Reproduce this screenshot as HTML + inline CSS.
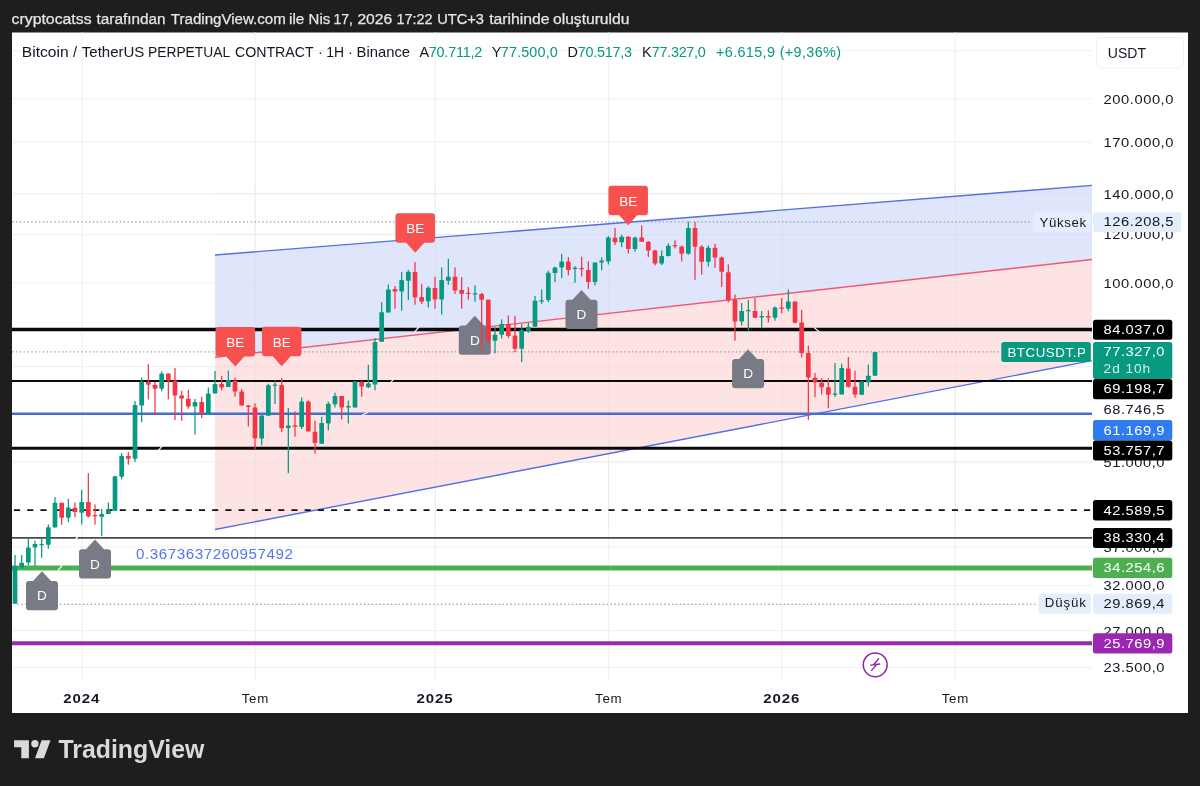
<!DOCTYPE html>
<html lang="tr"><head><meta charset="utf-8"><title>BTCUSDT.P</title>
<style>
html,body{margin:0;padding:0;background:#1e1e1e;}
body{width:1200px;height:786px;overflow:hidden;position:relative;font-family:'Liberation Sans', Arial, sans-serif;}
svg{position:absolute;left:0;top:0;display:block}
svg text{font-family:'Liberation Sans', Arial, sans-serif;}
</style></head><body>
<svg width="1200" height="786" viewBox="0 0 1200 786">
<rect x="0" y="0" width="1200" height="786" fill="#1e1e1e"/>
<rect x="12" y="32.5" width="1176" height="680.5" fill="#ffffff"/>

<defs><clipPath id="plot"><rect x="12" y="32.5" width="1080" height="652.5"/></clipPath></defs>
<g stroke="#f1f2f4" stroke-width="1.2">
<line x1="12" y1="50.6" x2="1092" y2="50.6"/>
<line x1="12" y1="99.0" x2="1092" y2="99.0"/>
<line x1="12" y1="142.1" x2="1092" y2="142.1"/>
<line x1="12" y1="193.7" x2="1092" y2="193.7"/>
<line x1="12" y1="234.6" x2="1092" y2="234.6"/>
<line x1="12" y1="283.0" x2="1092" y2="283.0"/>
<line x1="12" y1="366.6" x2="1092" y2="366.6"/>
<line x1="12" y1="461.8" x2="1092" y2="461.8"/>
<line x1="12" y1="547.0" x2="1092" y2="547.0"/>
<line x1="12" y1="585.5" x2="1092" y2="585.5"/>
<line x1="12" y1="630.7" x2="1092" y2="630.7"/>
<line x1="12" y1="667.5" x2="1092" y2="667.5"/>
<line x1="82.0" y1="32.5" x2="82.0" y2="680"/>
<line x1="255.3" y1="32.5" x2="255.3" y2="680"/>
<line x1="435.3" y1="32.5" x2="435.3" y2="680"/>
<line x1="608.6" y1="32.5" x2="608.6" y2="680"/>
<line x1="782.0" y1="32.5" x2="782.0" y2="680"/>
<line x1="955.3" y1="32.5" x2="955.3" y2="680"/>
</g>
<g clip-path="url(#plot)">
<polygon points="215,255.0 1092,185.4 1092,259.5 215,357.3" fill="#dfe5fb"/>
<polygon points="215,357.3 1092,259.5 1092,360.6 215,529.5" fill="#fde3e4"/>
<g stroke="#000" stroke-opacity="0.022" stroke-width="1.2">
<line x1="215" y1="193.7" x2="1092" y2="193.7"/>
<line x1="215" y1="234.6" x2="1092" y2="234.6"/>
<line x1="215" y1="283.0" x2="1092" y2="283.0"/>
<line x1="215" y1="366.6" x2="1092" y2="366.6"/>
<line x1="215" y1="461.8" x2="1092" y2="461.8"/>
<line x1="255.3" y1="180" x2="255.3" y2="530"/>
<line x1="435.3" y1="180" x2="435.3" y2="530"/>
<line x1="608.6" y1="180" x2="608.6" y2="530"/>
<line x1="782.0" y1="180" x2="782.0" y2="530"/>
<line x1="955.3" y1="180" x2="955.3" y2="530"/>
</g>
<line x1="12" y1="221.9" x2="1030" y2="221.9" stroke="#9a9da6" stroke-width="1.3" stroke-dasharray="1.4 2.45"/>
<line x1="12" y1="351.8" x2="1000" y2="351.8" stroke="#8fa8a3" stroke-width="1.3" stroke-dasharray="1.4 2.45"/>
<line x1="17.5" y1="604.3" x2="1036" y2="604.3" stroke="#9a9da6" stroke-width="1.3" stroke-dasharray="1.4 2.45"/>
<line x1="215" y1="255.0" x2="1092" y2="185.4" stroke="#5270e2" stroke-width="1.4"/>
<line x1="215" y1="357.3" x2="1092" y2="259.5" stroke="#ef5a6f" stroke-width="1.4"/>
<line x1="215" y1="529.5" x2="1092" y2="360.6" stroke="#5270e2" stroke-width="1.4"/>
<line x1="12" y1="329.5" x2="1092" y2="329.5" stroke="#0a0a0a" stroke-width="3.6"/>
<line x1="12" y1="381.0" x2="1092" y2="381.0" stroke="#0a0a0a" stroke-width="2.2"/>
<line x1="12" y1="413.8" x2="1092" y2="413.8" stroke="#456dd2" stroke-width="2.4"/>
<line x1="12" y1="448.2" x2="1092" y2="448.2" stroke="#0a0a0a" stroke-width="3.0"/>
<line x1="14" y1="510.2" x2="1092" y2="510.2" stroke="#111" stroke-width="1.8" stroke-dasharray="6.1 7.11"/>
<line x1="12" y1="537.9" x2="1092" y2="537.9" stroke="#4a4a4a" stroke-width="1.7"/>
<line x1="12" y1="568.0" x2="1092" y2="568.0" stroke="#4caf50" stroke-width="5.0"/>
<line x1="12" y1="643.2" x2="1092" y2="643.2" stroke="#9c27b0" stroke-width="4.0"/>
<line x1="414.5" y1="332.20000000000005" x2="418.9" y2="327.0" stroke="#fff" stroke-width="1.2"/>
<line x1="389.8" y1="383.6" x2="394.2" y2="378.4" stroke="#fff" stroke-width="1.2"/>
<line x1="158.10000000000002" y1="450.8" x2="162.5" y2="445.59999999999997" stroke="#fff" stroke-width="1.2"/>
<line x1="74.6" y1="540.5" x2="79.0" y2="535.3" stroke="#fff" stroke-width="1.2"/>
<line x1="57.8" y1="570.6" x2="62.2" y2="565.4" stroke="#fff" stroke-width="1.2"/>
<line x1="813.9" y1="327.40000000000003" x2="819.1" y2="331.8" stroke="#fff" stroke-width="1.2"/>
<line x1="362" y1="415.3" x2="368" y2="412.3" stroke="#fff" stroke-width="1.2"/>
<path d="M29.0,581.0999999999999 H33 L42,571.3 L51,581.0999999999999 H55.0 Q58.0,581.0999999999999 58.0,584.0999999999999 V607.3 Q58.0,610.3 55.0,610.3 H29.0 Q26.0,610.3 26.0,607.3 V584.0999999999999 Q26.0,581.0999999999999 29.0,581.0999999999999 Z" fill="#787b86"/>
<text x="42" y="600.4" font-size="13.6" fill="#fff" text-anchor="middle">D</text>
<path d="M82.0,549.1999999999999 H86 L95,539.4 L104,549.1999999999999 H108.0 Q111.0,549.1999999999999 111.0,552.1999999999999 V575.4 Q111.0,578.4 108.0,578.4 H82.0 Q79.0,578.4 79.0,575.4 V552.1999999999999 Q79.0,549.1999999999999 82.0,549.1999999999999 Z" fill="#787b86"/>
<text x="95" y="568.5" font-size="13.6" fill="#fff" text-anchor="middle">D</text>
<path d="M461.8,325.6 H465.8 L474.8,315.8 L483.8,325.6 H487.8 Q490.8,325.6 490.8,328.6 V351.8 Q490.8,354.8 487.8,354.8 H461.8 Q458.8,354.8 458.8,351.8 V328.6 Q458.8,325.6 461.8,325.6 Z" fill="#787b86"/>
<text x="474.8" y="344.9" font-size="13.6" fill="#fff" text-anchor="middle">D</text>
<path d="M568.5,299.8 H572.5 L581.5,290 L590.5,299.8 H594.5 Q597.5,299.8 597.5,302.8 V326.0 Q597.5,329.0 594.5,329.0 H568.5 Q565.5,329.0 565.5,326.0 V302.8 Q565.5,299.8 568.5,299.8 Z" fill="#787b86"/>
<text x="581.5" y="319.1" font-size="13.6" fill="#fff" text-anchor="middle">D</text>
<path d="M735.1,359.0 H739.1 L748.1,349.2 L757.1,359.0 H761.1 Q764.1,359.0 764.1,362.0 V385.2 Q764.1,388.2 761.1,388.2 H735.1 Q732.1,388.2 732.1,385.2 V362.0 Q732.1,359.0 735.1,359.0 Z" fill="#787b86"/>
<text x="748.1" y="378.3" font-size="13.6" fill="#fff" text-anchor="middle">D</text>
<g>
<rect x="14.38" y="555.0" width="1.25" height="48.8" fill="#089981"/><rect x="12.65" y="566.1" width="4.7" height="37.7" fill="#089981" rx="0.6"/>
<rect x="21.05" y="555.0" width="1.25" height="13.7" fill="#089981"/><rect x="19.32" y="562.7" width="4.7" height="5.1" fill="#089981" rx="0.6"/>
<rect x="27.71" y="538.0" width="1.25" height="27.4" fill="#089981"/><rect x="25.98" y="547.4" width="4.7" height="15.1" fill="#089981" rx="0.6"/>
<rect x="34.38" y="540.7" width="1.25" height="25.4" fill="#089981"/><rect x="32.65" y="544.0" width="4.7" height="3.4" fill="#089981" rx="0.6"/>
<rect x="41.05" y="538.0" width="1.25" height="19.7" fill="#089981"/><rect x="39.32" y="544.0" width="4.7" height="1.2" fill="#089981" rx="0.6"/>
<rect x="47.71" y="524.5" width="1.25" height="24.2" fill="#089981"/><rect x="45.98" y="527.3" width="4.7" height="17.4" fill="#089981" rx="0.6"/>
<rect x="54.38" y="497.1" width="1.25" height="30.3" fill="#089981"/><rect x="52.65" y="502.8" width="4.7" height="24.6" fill="#089981" rx="0.6"/>
<rect x="61.05" y="502.8" width="1.25" height="22.0" fill="#f23645"/><rect x="59.32" y="502.8" width="4.7" height="14.9" fill="#f23645" rx="0.6"/>
<rect x="67.71" y="498.7" width="1.25" height="23.4" fill="#089981"/><rect x="65.98" y="507.4" width="4.7" height="10.3" fill="#089981" rx="0.6"/>
<rect x="74.38" y="502.5" width="1.25" height="14.9" fill="#f23645"/><rect x="72.65" y="507.8" width="4.7" height="4.3" fill="#f23645" rx="0.6"/>
<rect x="81.05" y="489.7" width="1.25" height="34.7" fill="#089981"/><rect x="79.32" y="502.1" width="4.7" height="10.7" fill="#089981" rx="0.6"/>
<rect x="87.71" y="473.1" width="1.25" height="44.3" fill="#f23645"/><rect x="85.98" y="502.1" width="4.7" height="14.3" fill="#f23645" rx="0.6"/>
<rect x="94.38" y="504.4" width="1.25" height="20.2" fill="#f23645"/><rect x="92.65" y="515.0" width="4.7" height="1.3" fill="#f23645" rx="0.6"/>
<rect x="101.05" y="508.8" width="1.25" height="27.3" fill="#089981"/><rect x="99.32" y="514.1" width="4.7" height="2.7" fill="#089981" rx="0.6"/>
<rect x="107.71" y="502.5" width="1.25" height="11.6" fill="#089981"/><rect x="105.98" y="510.1" width="4.7" height="4.0" fill="#089981" rx="0.6"/>
<rect x="114.38" y="475.8" width="1.25" height="35.0" fill="#089981"/><rect x="112.65" y="476.3" width="4.7" height="34.5" fill="#089981" rx="0.6"/>
<rect x="121.05" y="453.1" width="1.25" height="26.3" fill="#089981"/><rect x="119.32" y="456.0" width="4.7" height="20.7" fill="#089981" rx="0.6"/>
<rect x="127.71" y="452.0" width="1.25" height="12.7" fill="#f23645"/><rect x="125.98" y="456.0" width="4.7" height="2.7" fill="#f23645" rx="0.6"/>
<rect x="134.38" y="401.0" width="1.25" height="61.0" fill="#089981"/><rect x="132.65" y="405.0" width="4.7" height="53.7" fill="#089981" rx="0.6"/>
<rect x="141.05" y="377.4" width="1.25" height="44.8" fill="#089981"/><rect x="139.32" y="381.4" width="4.7" height="24.0" fill="#089981" rx="0.6"/>
<rect x="147.71" y="364.0" width="1.25" height="35.4" fill="#f23645"/><rect x="145.98" y="382.0" width="4.7" height="2.7" fill="#f23645" rx="0.6"/>
<rect x="154.38" y="382.0" width="1.25" height="32.8" fill="#f23645"/><rect x="152.65" y="384.7" width="4.7" height="4.0" fill="#f23645" rx="0.6"/>
<rect x="161.05" y="371.4" width="1.25" height="20.0" fill="#089981"/><rect x="159.32" y="373.4" width="4.7" height="15.3" fill="#089981" rx="0.6"/>
<rect x="167.71" y="373.4" width="1.25" height="26.0" fill="#f23645"/><rect x="165.98" y="373.4" width="4.7" height="7.3" fill="#f23645" rx="0.6"/>
<rect x="174.38" y="368.0" width="1.25" height="52.1" fill="#f23645"/><rect x="172.65" y="380.7" width="4.7" height="14.7" fill="#f23645" rx="0.6"/>
<rect x="181.05" y="390.7" width="1.25" height="30.1" fill="#f23645"/><rect x="179.32" y="395.4" width="4.7" height="3.1" fill="#f23645" rx="0.6"/>
<rect x="187.71" y="389.7" width="1.25" height="19.1" fill="#f23645"/><rect x="185.98" y="398.7" width="4.7" height="7.8" fill="#f23645" rx="0.6"/>
<rect x="194.38" y="399.0" width="1.25" height="35.5" fill="#089981"/><rect x="192.65" y="402.1" width="4.7" height="4.4" fill="#089981" rx="0.6"/>
<rect x="201.05" y="396.7" width="1.25" height="21.4" fill="#f23645"/><rect x="199.32" y="402.1" width="4.7" height="11.1" fill="#f23645" rx="0.6"/>
<rect x="207.71" y="387.4" width="1.25" height="26.7" fill="#089981"/><rect x="205.98" y="393.4" width="4.7" height="20.7" fill="#089981" rx="0.6"/>
<rect x="214.38" y="371.0" width="1.25" height="22.4" fill="#089981"/><rect x="212.65" y="384.1" width="4.7" height="9.3" fill="#089981" rx="0.6"/>
<rect x="221.05" y="375.8" width="1.25" height="14.7" fill="#f23645"/><rect x="219.32" y="384.1" width="4.7" height="3.3" fill="#f23645" rx="0.6"/>
<rect x="227.71" y="370.7" width="1.25" height="16.3" fill="#089981"/><rect x="225.98" y="380.1" width="4.7" height="6.9" fill="#089981" rx="0.6"/>
<rect x="234.38" y="377.7" width="1.25" height="19.0" fill="#f23645"/><rect x="232.65" y="380.7" width="4.7" height="10.7" fill="#f23645" rx="0.6"/>
<rect x="241.05" y="389.1" width="1.25" height="16.3" fill="#f23645"/><rect x="239.32" y="391.4" width="4.7" height="14.0" fill="#f23645" rx="0.6"/>
<rect x="247.71" y="405.2" width="1.25" height="21.3" fill="#f23645"/><rect x="245.98" y="405.5" width="4.7" height="1.5" fill="#f23645" rx="0.6"/>
<rect x="254.38" y="403.4" width="1.25" height="46.3" fill="#f23645"/><rect x="252.65" y="407.5" width="4.7" height="30.8" fill="#f23645" rx="0.6"/>
<rect x="261.05" y="415.4" width="1.25" height="30.0" fill="#089981"/><rect x="259.32" y="415.4" width="4.7" height="23.1" fill="#089981" rx="0.6"/>
<rect x="267.71" y="383.8" width="1.25" height="32.0" fill="#089981"/><rect x="265.98" y="385.2" width="4.7" height="30.6" fill="#089981" rx="0.6"/>
<rect x="274.38" y="380.4" width="1.25" height="23.6" fill="#089981"/><rect x="272.65" y="384.5" width="4.7" height="1.2" fill="#089981" rx="0.6"/>
<rect x="281.05" y="378.1" width="1.25" height="54.0" fill="#f23645"/><rect x="279.32" y="385.0" width="4.7" height="43.3" fill="#f23645" rx="0.6"/>
<rect x="287.71" y="408.0" width="1.25" height="65.2" fill="#089981"/><rect x="285.98" y="425.4" width="4.7" height="2.7" fill="#089981" rx="0.6"/>
<rect x="294.38" y="411.4" width="1.25" height="25.3" fill="#f23645"/><rect x="292.65" y="425.3" width="4.7" height="1.5" fill="#f23645" rx="0.6"/>
<rect x="301.05" y="397.4" width="1.25" height="31.7" fill="#089981"/><rect x="299.32" y="401.4" width="4.7" height="25.6" fill="#089981" rx="0.6"/>
<rect x="307.71" y="400.3" width="1.25" height="31.1" fill="#f23645"/><rect x="305.98" y="401.4" width="4.7" height="30.0" fill="#f23645" rx="0.6"/>
<rect x="314.38" y="420.7" width="1.25" height="33.0" fill="#f23645"/><rect x="312.65" y="431.8" width="4.7" height="11.2" fill="#f23645" rx="0.6"/>
<rect x="321.05" y="416.7" width="1.25" height="27.1" fill="#089981"/><rect x="319.32" y="423.0" width="4.7" height="20.8" fill="#089981" rx="0.6"/>
<rect x="327.71" y="401.6" width="1.25" height="28.9" fill="#089981"/><rect x="325.98" y="403.8" width="4.7" height="19.6" fill="#089981" rx="0.6"/>
<rect x="334.38" y="392.7" width="1.25" height="14.7" fill="#089981"/><rect x="332.65" y="396.0" width="4.7" height="8.3" fill="#089981" rx="0.6"/>
<rect x="341.05" y="396.0" width="1.25" height="23.4" fill="#f23645"/><rect x="339.32" y="396.0" width="4.7" height="11.4" fill="#f23645" rx="0.6"/>
<rect x="347.71" y="400.7" width="1.25" height="22.7" fill="#089981"/><rect x="345.98" y="406.0" width="4.7" height="1.4" fill="#089981" rx="0.6"/>
<rect x="354.38" y="380.8" width="1.25" height="26.6" fill="#089981"/><rect x="352.65" y="381.5" width="4.7" height="25.9" fill="#089981" rx="0.6"/>
<rect x="361.05" y="381.0" width="1.25" height="15.7" fill="#f23645"/><rect x="359.32" y="382.0" width="4.7" height="4.5" fill="#f23645" rx="0.6"/>
<rect x="367.72" y="364.8" width="1.25" height="23.2" fill="#089981"/><rect x="365.99" y="383.6" width="4.7" height="3.7" fill="#089981" rx="0.6"/>
<rect x="374.38" y="338.0" width="1.25" height="52.2" fill="#089981"/><rect x="372.65" y="342.0" width="4.7" height="42.5" fill="#089981" rx="0.6"/>
<rect x="381.05" y="302.2" width="1.25" height="39.6" fill="#089981"/><rect x="379.32" y="312.2" width="4.7" height="29.6" fill="#089981" rx="0.6"/>
<rect x="387.72" y="284.5" width="1.25" height="28.0" fill="#089981"/><rect x="385.99" y="289.4" width="4.7" height="23.1" fill="#089981" rx="0.6"/>
<rect x="394.38" y="286.0" width="1.25" height="22.7" fill="#f23645"/><rect x="392.65" y="289.0" width="4.7" height="2.6" fill="#f23645" rx="0.6"/>
<rect x="401.05" y="272.1" width="1.25" height="38.6" fill="#089981"/><rect x="399.32" y="280.1" width="4.7" height="11.3" fill="#089981" rx="0.6"/>
<rect x="407.72" y="270.1" width="1.25" height="29.9" fill="#089981"/><rect x="405.99" y="271.8" width="4.7" height="9.0" fill="#089981" rx="0.6"/>
<rect x="414.38" y="262.1" width="1.25" height="42.6" fill="#f23645"/><rect x="412.65" y="272.1" width="4.7" height="25.3" fill="#f23645" rx="0.6"/>
<rect x="421.05" y="283.9" width="1.25" height="20.1" fill="#f23645"/><rect x="419.32" y="297.1" width="4.7" height="4.4" fill="#f23645" rx="0.6"/>
<rect x="427.72" y="286.2" width="1.25" height="21.2" fill="#089981"/><rect x="425.99" y="287.7" width="4.7" height="13.6" fill="#089981" rx="0.6"/>
<rect x="434.38" y="276.8" width="1.25" height="31.9" fill="#f23645"/><rect x="432.65" y="288.0" width="4.7" height="11.4" fill="#f23645" rx="0.6"/>
<rect x="441.05" y="267.4" width="1.25" height="47.0" fill="#089981"/><rect x="439.32" y="280.1" width="4.7" height="19.3" fill="#089981" rx="0.6"/>
<rect x="447.72" y="258.7" width="1.25" height="26.1" fill="#089981"/><rect x="445.99" y="276.8" width="4.7" height="4.0" fill="#089981" rx="0.6"/>
<rect x="454.38" y="267.4" width="1.25" height="26.6" fill="#f23645"/><rect x="452.65" y="276.8" width="4.7" height="13.8" fill="#f23645" rx="0.6"/>
<rect x="461.05" y="277.2" width="1.25" height="31.5" fill="#f23645"/><rect x="459.32" y="290.0" width="4.7" height="3.8" fill="#f23645" rx="0.6"/>
<rect x="467.72" y="287.0" width="1.25" height="12.7" fill="#f23645"/><rect x="465.99" y="292.8" width="4.7" height="1.3" fill="#f23645" rx="0.6"/>
<rect x="474.38" y="285.3" width="1.25" height="16.3" fill="#089981"/><rect x="472.65" y="293.2" width="4.7" height="1.3" fill="#089981" rx="0.6"/>
<rect x="481.05" y="292.7" width="1.25" height="58.1" fill="#f23645"/><rect x="479.32" y="294.0" width="4.7" height="5.8" fill="#f23645" rx="0.6"/>
<rect x="487.72" y="299.5" width="1.25" height="43.5" fill="#f23645"/><rect x="485.99" y="299.8" width="4.7" height="40.9" fill="#f23645" rx="0.6"/>
<rect x="494.38" y="327.4" width="1.25" height="26.0" fill="#089981"/><rect x="492.65" y="334.7" width="4.7" height="6.0" fill="#089981" rx="0.6"/>
<rect x="501.05" y="319.4" width="1.25" height="19.3" fill="#089981"/><rect x="499.32" y="324.1" width="4.7" height="10.6" fill="#089981" rx="0.6"/>
<rect x="507.72" y="315.4" width="1.25" height="22.7" fill="#f23645"/><rect x="505.99" y="324.1" width="4.7" height="12.0" fill="#f23645" rx="0.6"/>
<rect x="514.38" y="315.8" width="1.25" height="36.3" fill="#f23645"/><rect x="512.65" y="335.4" width="4.7" height="13.4" fill="#f23645" rx="0.6"/>
<rect x="521.05" y="324.1" width="1.25" height="38.0" fill="#089981"/><rect x="519.32" y="330.1" width="4.7" height="18.7" fill="#089981" rx="0.6"/>
<rect x="527.72" y="322.7" width="1.25" height="10.0" fill="#089981"/><rect x="525.99" y="326.7" width="4.7" height="4.7" fill="#089981" rx="0.6"/>
<rect x="534.38" y="296.0" width="1.25" height="31.0" fill="#089981"/><rect x="532.65" y="300.7" width="4.7" height="26.0" fill="#089981" rx="0.6"/>
<rect x="541.05" y="289.5" width="1.25" height="14.3" fill="#089981"/><rect x="539.32" y="300.3" width="4.7" height="1.2" fill="#089981" rx="0.6"/>
<rect x="547.72" y="270.7" width="1.25" height="31.4" fill="#089981"/><rect x="545.99" y="272.8" width="4.7" height="27.3" fill="#089981" rx="0.6"/>
<rect x="554.38" y="266.7" width="1.25" height="15.4" fill="#089981"/><rect x="552.65" y="267.4" width="4.7" height="5.6" fill="#089981" rx="0.6"/>
<rect x="561.05" y="253.8" width="1.25" height="24.3" fill="#089981"/><rect x="559.32" y="261.4" width="4.7" height="6.0" fill="#089981" rx="0.6"/>
<rect x="567.72" y="257.0" width="1.25" height="18.4" fill="#f23645"/><rect x="565.99" y="261.4" width="4.7" height="8.7" fill="#f23645" rx="0.6"/>
<rect x="574.38" y="266.1" width="1.25" height="16.7" fill="#089981"/><rect x="572.65" y="267.7" width="4.7" height="1.3" fill="#089981" rx="0.6"/>
<rect x="581.05" y="256.7" width="1.25" height="19.8" fill="#f23645"/><rect x="579.32" y="268.0" width="4.7" height="1.3" fill="#f23645" rx="0.6"/>
<rect x="587.72" y="261.4" width="1.25" height="27.4" fill="#f23645"/><rect x="585.99" y="270.1" width="4.7" height="12.0" fill="#f23645" rx="0.6"/>
<rect x="594.38" y="262.5" width="1.25" height="22.9" fill="#089981"/><rect x="592.65" y="262.5" width="4.7" height="19.6" fill="#089981" rx="0.6"/>
<rect x="601.05" y="257.4" width="1.25" height="12.9" fill="#089981"/><rect x="599.32" y="260.5" width="4.7" height="1.9" fill="#089981" rx="0.6"/>
<rect x="607.72" y="236.0" width="1.25" height="28.5" fill="#089981"/><rect x="605.99" y="237.4" width="4.7" height="24.0" fill="#089981" rx="0.6"/>
<rect x="614.38" y="228.0" width="1.25" height="17.0" fill="#f23645"/><rect x="612.65" y="237.8" width="4.7" height="4.5" fill="#f23645" rx="0.6"/>
<rect x="621.05" y="234.7" width="1.25" height="12.4" fill="#089981"/><rect x="619.32" y="236.7" width="4.7" height="5.6" fill="#089981" rx="0.6"/>
<rect x="627.72" y="236.0" width="1.25" height="17.4" fill="#f23645"/><rect x="625.99" y="236.7" width="4.7" height="12.3" fill="#f23645" rx="0.6"/>
<rect x="634.38" y="236.7" width="1.25" height="15.0" fill="#089981"/><rect x="632.65" y="237.4" width="4.7" height="11.6" fill="#089981" rx="0.6"/>
<rect x="641.05" y="225.4" width="1.25" height="16.6" fill="#f23645"/><rect x="639.32" y="237.4" width="4.7" height="4.4" fill="#f23645" rx="0.6"/>
<rect x="647.72" y="241.0" width="1.25" height="15.9" fill="#f23645"/><rect x="645.99" y="241.8" width="4.7" height="8.8" fill="#f23645" rx="0.6"/>
<rect x="654.38" y="249.8" width="1.25" height="15.6" fill="#f23645"/><rect x="652.65" y="250.6" width="4.7" height="12.9" fill="#f23645" rx="0.6"/>
<rect x="661.05" y="250.3" width="1.25" height="14.7" fill="#089981"/><rect x="659.32" y="256.1" width="4.7" height="7.4" fill="#089981" rx="0.6"/>
<rect x="667.72" y="243.4" width="1.25" height="13.1" fill="#089981"/><rect x="665.99" y="245.8" width="4.7" height="10.3" fill="#089981" rx="0.6"/>
<rect x="674.38" y="240.4" width="1.25" height="8.0" fill="#f23645"/><rect x="672.65" y="245.0" width="4.7" height="1.3" fill="#f23645" rx="0.6"/>
<rect x="681.05" y="245.7" width="1.25" height="15.8" fill="#f23645"/><rect x="679.32" y="246.4" width="4.7" height="7.3" fill="#f23645" rx="0.6"/>
<rect x="687.72" y="221.7" width="1.25" height="33.1" fill="#089981"/><rect x="685.99" y="228.1" width="4.7" height="25.6" fill="#089981" rx="0.6"/>
<rect x="694.38" y="222.1" width="1.25" height="57.7" fill="#f23645"/><rect x="692.65" y="228.1" width="4.7" height="18.7" fill="#f23645" rx="0.6"/>
<rect x="701.05" y="245.1" width="1.25" height="29.7" fill="#f23645"/><rect x="699.32" y="246.8" width="4.7" height="15.0" fill="#f23645" rx="0.6"/>
<rect x="707.72" y="245.5" width="1.25" height="20.9" fill="#089981"/><rect x="705.99" y="247.7" width="4.7" height="14.1" fill="#089981" rx="0.6"/>
<rect x="714.38" y="243.7" width="1.25" height="24.1" fill="#f23645"/><rect x="712.65" y="247.7" width="4.7" height="9.8" fill="#f23645" rx="0.6"/>
<rect x="721.05" y="256.7" width="1.25" height="30.2" fill="#f23645"/><rect x="719.32" y="257.5" width="4.7" height="14.3" fill="#f23645" rx="0.6"/>
<rect x="727.72" y="264.4" width="1.25" height="38.0" fill="#f23645"/><rect x="725.99" y="272.2" width="4.7" height="28.1" fill="#f23645" rx="0.6"/>
<rect x="734.38" y="294.6" width="1.25" height="46.1" fill="#f23645"/><rect x="732.65" y="299.8" width="4.7" height="21.6" fill="#f23645" rx="0.6"/>
<rect x="741.05" y="303.0" width="1.25" height="22.4" fill="#089981"/><rect x="739.32" y="311.0" width="4.7" height="10.4" fill="#089981" rx="0.6"/>
<rect x="747.72" y="300.0" width="1.25" height="30.7" fill="#089981"/><rect x="745.99" y="310.0" width="4.7" height="1.3" fill="#089981" rx="0.6"/>
<rect x="754.38" y="298.0" width="1.25" height="20.2" fill="#f23645"/><rect x="752.65" y="311.0" width="4.7" height="6.7" fill="#f23645" rx="0.6"/>
<rect x="761.05" y="311.0" width="1.25" height="17.3" fill="#089981"/><rect x="759.32" y="316.0" width="4.7" height="1.4" fill="#089981" rx="0.6"/>
<rect x="767.72" y="310.4" width="1.25" height="12.1" fill="#f23645"/><rect x="765.99" y="316.0" width="4.7" height="1.6" fill="#f23645" rx="0.6"/>
<rect x="774.38" y="306.4" width="1.25" height="14.3" fill="#089981"/><rect x="772.65" y="307.4" width="4.7" height="10.3" fill="#089981" rx="0.6"/>
<rect x="781.05" y="298.0" width="1.25" height="15.4" fill="#f23645"/><rect x="779.32" y="307.4" width="4.7" height="1.4" fill="#f23645" rx="0.6"/>
<rect x="787.72" y="289.6" width="1.25" height="21.8" fill="#089981"/><rect x="785.99" y="301.6" width="4.7" height="7.1" fill="#089981" rx="0.6"/>
<rect x="794.38" y="301.3" width="1.25" height="22.1" fill="#f23645"/><rect x="792.65" y="301.6" width="4.7" height="21.1" fill="#f23645" rx="0.6"/>
<rect x="801.05" y="310.0" width="1.25" height="47.4" fill="#f23645"/><rect x="799.32" y="322.5" width="4.7" height="30.7" fill="#f23645" rx="0.6"/>
<rect x="807.72" y="345.7" width="1.25" height="74.1" fill="#f23645"/><rect x="805.99" y="353.0" width="4.7" height="24.6" fill="#f23645" rx="0.6"/>
<rect x="814.38" y="373.0" width="1.25" height="24.1" fill="#f23645"/><rect x="812.65" y="377.7" width="4.7" height="4.7" fill="#f23645" rx="0.6"/>
<rect x="821.05" y="378.0" width="1.25" height="16.4" fill="#f23645"/><rect x="819.32" y="382.8" width="4.7" height="4.5" fill="#f23645" rx="0.6"/>
<rect x="827.72" y="378.4" width="1.25" height="29.8" fill="#f23645"/><rect x="825.99" y="387.3" width="4.7" height="7.5" fill="#f23645" rx="0.6"/>
<rect x="834.38" y="363.0" width="1.25" height="34.1" fill="#089981"/><rect x="832.65" y="393.5" width="4.7" height="1.3" fill="#089981" rx="0.6"/>
<rect x="841.05" y="363.7" width="1.25" height="30.9" fill="#089981"/><rect x="839.32" y="368.1" width="4.7" height="26.3" fill="#089981" rx="0.6"/>
<rect x="847.72" y="357.0" width="1.25" height="30.7" fill="#f23645"/><rect x="845.99" y="368.4" width="4.7" height="18.4" fill="#f23645" rx="0.6"/>
<rect x="854.38" y="370.8" width="1.25" height="27.0" fill="#f23645"/><rect x="852.65" y="386.8" width="4.7" height="7.6" fill="#f23645" rx="0.6"/>
<rect x="861.05" y="380.4" width="1.25" height="14.4" fill="#089981"/><rect x="859.32" y="381.5" width="4.7" height="13.3" fill="#089981" rx="0.6"/>
<rect x="867.72" y="364.6" width="1.25" height="21.8" fill="#089981"/><rect x="865.99" y="375.7" width="4.7" height="6.7" fill="#089981" rx="0.6"/>
<rect x="874.38" y="351.7" width="1.25" height="24.4" fill="#089981"/><rect x="872.65" y="352.1" width="4.7" height="23.6" fill="#089981" rx="0.6"/>
</g>
</g>
<text x="136" y="558.6" font-size="14.5" fill="#5674ee" letter-spacing="0.5" textLength="157.5" lengthAdjust="spacingAndGlyphs">0.3673637260957492</text>
<path d="M218.55,327.0 H252.05 Q255.05,327.0 255.05,330.0 V353.5 Q255.05,356.5 252.05,356.5 H244.3 L235.3,366.5 L226.3,356.5 H218.55 Q215.55,356.5 215.55,353.5 V330.0 Q215.55,327.0 218.55,327.0 Z" fill="#f7514f"/>
<text x="235.3" y="347.0" font-size="13.5" fill="#fff" text-anchor="middle">BE</text>
<path d="M264.95,326.8 H298.45 Q301.45,326.8 301.45,329.8 V353.3 Q301.45,356.3 298.45,356.3 H290.7 L281.7,366.3 L272.7,356.3 H264.95 Q261.95,356.3 261.95,353.3 V329.8 Q261.95,326.8 264.95,326.8 Z" fill="#f7514f"/>
<text x="281.7" y="346.8" font-size="13.5" fill="#fff" text-anchor="middle">BE</text>
<path d="M398.45,213.2 H431.95 Q434.95,213.2 434.95,216.2 V239.7 Q434.95,242.7 431.95,242.7 H424.2 L415.2,252.7 L406.2,242.7 H398.45 Q395.45,242.7 395.45,239.7 V216.2 Q395.45,213.2 398.45,213.2 Z" fill="#f7514f"/>
<text x="415.2" y="233.2" font-size="13.5" fill="#fff" text-anchor="middle">BE</text>
<path d="M611.45,185.7 H644.95 Q647.95,185.7 647.95,188.7 V212.2 Q647.95,215.2 644.95,215.2 H637.2 L628.2,225.2 L619.2,215.2 H611.45 Q608.45,215.2 608.45,212.2 V188.7 Q608.45,185.7 611.45,185.7 Z" fill="#f7514f"/>
<text x="628.2" y="205.7" font-size="13.5" fill="#fff" text-anchor="middle">BE</text>
<g transform="translate(875.2,664.85)"><circle r="11.95" fill="#fff" stroke="#8a2aa8" stroke-width="1.5"/><path d="M3.4,-6.2 L-1.6,-0.1 M-4.4,0.3 L4.5,-0.8 M1.6,-0.5 L-3.5,5.5" fill="none" stroke="#8a2aa8" stroke-width="1.45" stroke-linecap="round"/></g>
<text x="1103.6" y="103.8" font-size="13.7" fill="#131722" letter-spacing="0.5" textLength="70.4" lengthAdjust="spacingAndGlyphs">200.000,0</text>
<text x="1103.6" y="146.9" font-size="13.7" fill="#131722" letter-spacing="0.5" textLength="70.4" lengthAdjust="spacingAndGlyphs">170.000,0</text>
<text x="1103.6" y="198.5" font-size="13.7" fill="#131722" letter-spacing="0.5" textLength="70.4" lengthAdjust="spacingAndGlyphs">140.000,0</text>
<text x="1103.6" y="239.4" font-size="13.7" fill="#131722" letter-spacing="0.5" textLength="70.4" lengthAdjust="spacingAndGlyphs">120.000,0</text>
<text x="1103.6" y="287.8" font-size="13.7" fill="#131722" letter-spacing="0.5" textLength="70.4" lengthAdjust="spacingAndGlyphs">100.000,0</text>
<text x="1103.6" y="466.6" font-size="13.7" fill="#131722" letter-spacing="0.5" textLength="61.4" lengthAdjust="spacingAndGlyphs">51.000,0</text>
<text x="1103.6" y="551.8" font-size="13.7" fill="#131722" letter-spacing="0.5" textLength="61.4" lengthAdjust="spacingAndGlyphs">37.000,0</text>
<text x="1103.6" y="590.3" font-size="13.7" fill="#131722" letter-spacing="0.5" textLength="61.4" lengthAdjust="spacingAndGlyphs">32.000,0</text>
<text x="1103.6" y="635.5" font-size="13.7" fill="#131722" letter-spacing="0.5" textLength="61.4" lengthAdjust="spacingAndGlyphs">27.000,0</text>
<text x="1103.6" y="672.3" font-size="13.7" fill="#131722" letter-spacing="0.5" textLength="61.4" lengthAdjust="spacingAndGlyphs">23.500,0</text>
<text x="1103.6" y="414.0" font-size="13.7" fill="#131722" letter-spacing="0.5" textLength="61.4" lengthAdjust="spacingAndGlyphs">68.746,5</text>
<rect x="1033.5" y="212.2" width="57.3" height="19.8" rx="2" fill="#eaf1fc" fill-opacity="0.65"/>
<text x="1039.4" y="226.8" font-size="13.3" fill="#131722" textLength="46.7" lengthAdjust="spacing">Yüksek</text>
<rect x="1093" y="212.2" width="88.2" height="19.80000000000001" rx="2.5" fill="#e3edfb"/>
<text x="1103.6" y="226.4" font-size="13.7" fill="#131722" letter-spacing="0.5" textLength="70.4" lengthAdjust="spacingAndGlyphs">126.208,5</text>
<rect x="1038.6" y="593.8" width="52.2" height="19.9" rx="2" fill="#e6eefb"/>
<text x="1044.7" y="607.4" font-size="13.3" fill="#131722" textLength="41.3" lengthAdjust="spacing">Düşük</text>
<rect x="1093" y="593.8" width="79.3" height="19.90000000000009" rx="2.5" fill="#e3edfb"/>
<text x="1103.6" y="608.0" font-size="13.7" fill="#131722" letter-spacing="0.5" textLength="61.4" lengthAdjust="spacingAndGlyphs">29.869,4</text>
<rect x="1093" y="319.8" width="79.3" height="19.899999999999977" rx="2.5" fill="#000"/>
<text x="1103.6" y="334.1" font-size="13.7" fill="#fff" letter-spacing="0.5" textLength="61.4" lengthAdjust="spacingAndGlyphs">84.037,0</text>
<rect x="1001.3" y="342" width="89.5" height="19.9" rx="2.5" fill="#089981"/>
<text x="1007.4" y="356.6" font-size="13.3" fill="#fff" textLength="78.4" lengthAdjust="spacing">BTCUSDT.P</text>
<rect x="1093" y="342" width="79.3" height="37" rx="2.5" fill="#089981"/>
<text x="1103.6" y="356.1" font-size="13.7" fill="#fff" letter-spacing="0.5" textLength="61.4" lengthAdjust="spacingAndGlyphs">77.327,0</text>
<text x="1103.6" y="372.8" font-size="13.7" fill="#fff" fill-opacity="0.85" textLength="46.5" lengthAdjust="spacing">2d 10h</text>
<rect x="1093" y="379" width="79.3" height="20.30000000000001" rx="2.5" fill="#000"/>
<text x="1103.6" y="393.4" font-size="13.7" fill="#fff" letter-spacing="0.5" textLength="61.4" lengthAdjust="spacingAndGlyphs">69.198,7</text>
<rect x="1093" y="420.1" width="79.3" height="20.299999999999955" rx="2.5" fill="#2e7bf2"/>
<text x="1103.6" y="434.6" font-size="13.7" fill="#fff" letter-spacing="0.5" textLength="61.4" lengthAdjust="spacingAndGlyphs">61.169,9</text>
<rect x="1093" y="440.4" width="79.3" height="20.0" rx="2.5" fill="#000"/>
<text x="1103.6" y="454.7" font-size="13.7" fill="#fff" letter-spacing="0.5" textLength="61.4" lengthAdjust="spacingAndGlyphs">53.757,7</text>
<rect x="1093" y="500" width="79.3" height="20.399999999999977" rx="2.5" fill="#000"/>
<text x="1103.6" y="514.5" font-size="13.7" fill="#fff" letter-spacing="0.5" textLength="61.4" lengthAdjust="spacingAndGlyphs">42.589,5</text>
<rect x="1093" y="528" width="79.3" height="20" rx="2.5" fill="#000"/>
<text x="1103.6" y="542.3" font-size="13.7" fill="#fff" letter-spacing="0.5" textLength="61.4" lengthAdjust="spacingAndGlyphs">38.330,4</text>
<rect x="1093" y="557.8" width="79.3" height="20.300000000000068" rx="2.5" fill="#4caf50"/>
<text x="1103.6" y="572.2" font-size="13.7" fill="#fff" letter-spacing="0.5" textLength="61.4" lengthAdjust="spacingAndGlyphs">34.254,6</text>
<rect x="1093" y="633.3" width="79.3" height="20.100000000000023" rx="2.5" fill="#9c27b0"/>
<text x="1103.6" y="647.6" font-size="13.7" fill="#fff" letter-spacing="0.5" textLength="61.4" lengthAdjust="spacingAndGlyphs">25.769,9</text>
<rect x="1096.5" y="37.5" width="87" height="30.5" rx="4" fill="#fff" stroke="#f1f2f5" stroke-width="1"/>
<text x="1107.8" y="57.6" font-size="14" fill="#131722" textLength="38.2" lengthAdjust="spacing">USDT</text>
<text x="81.667" y="702.5" font-size="13.3" fill="#131722" text-anchor="middle" font-weight="bold" letter-spacing="0.8" textLength="37" lengthAdjust="spacingAndGlyphs">2024</text>
<text x="255.00119999999998" y="702.5" font-size="13.3" fill="#131722" text-anchor="middle" textLength="26.5" lengthAdjust="spacing">Tem</text>
<text x="435.0021" y="702.5" font-size="13.3" fill="#131722" text-anchor="middle" font-weight="bold" letter-spacing="0.8" textLength="37" lengthAdjust="spacingAndGlyphs">2025</text>
<text x="608.3362999999999" y="702.5" font-size="13.3" fill="#131722" text-anchor="middle" textLength="26.5" lengthAdjust="spacing">Tem</text>
<text x="781.6705" y="702.5" font-size="13.3" fill="#131722" text-anchor="middle" font-weight="bold" letter-spacing="0.8" textLength="37" lengthAdjust="spacingAndGlyphs">2026</text>
<text x="955.0047" y="702.5" font-size="13.3" fill="#131722" text-anchor="middle" textLength="26.5" lengthAdjust="spacing">Tem</text>
<text y="56.6" font-size="14.6" fill="#131722"><tspan x="21.8" textLength="46.8" lengthAdjust="spacingAndGlyphs">Bitcoin</tspan> <tspan x="73">/</tspan> <tspan x="81.8" textLength="62.6" lengthAdjust="spacingAndGlyphs">TetherUS</tspan> <tspan x="148" textLength="81.6" lengthAdjust="spacingAndGlyphs">PERPETUAL</tspan> <tspan x="234.9" textLength="78.6" lengthAdjust="spacingAndGlyphs">CONTRACT</tspan> <tspan x="318">·</tspan> <tspan x="326.3" textLength="17.8" lengthAdjust="spacingAndGlyphs">1H</tspan> <tspan x="348">·</tspan> <tspan x="356.6" textLength="53.4" lengthAdjust="spacingAndGlyphs">Binance</tspan></text>
<text x="419.4" y="56.6" font-size="14.4" fill="#131722" textLength="9.0" lengthAdjust="spacing">A</text>
<text x="428.8" y="56.6" font-size="14.4" fill="#089981" textLength="53.4" lengthAdjust="spacing">70.711,2</text>
<text x="491.8" y="56.6" font-size="14.4" fill="#131722" textLength="8.6" lengthAdjust="spacing">Y</text>
<text x="500.8" y="56.6" font-size="14.4" fill="#089981" textLength="57.0" lengthAdjust="spacing">77.500,0</text>
<text x="567.6" y="56.6" font-size="14.4" fill="#131722" textLength="9.6" lengthAdjust="spacing">D</text>
<text x="577.8" y="56.6" font-size="14.4" fill="#089981" textLength="54.2" lengthAdjust="spacing">70.517,3</text>
<text x="642" y="56.6" font-size="14.4" fill="#131722" textLength="9.4" lengthAdjust="spacing">K</text>
<text x="651.8" y="56.6" font-size="14.4" fill="#089981" textLength="54.0" lengthAdjust="spacing">77.327,0</text>
<text x="716" y="56.6" font-size="14.4" fill="#089981" textLength="125.0" lengthAdjust="spacing">+6.615,9 (+9,36%)</text>
<text y="24" font-size="15.1" fill="#e6e6e6" stroke="#e6e6e6" stroke-width="0.25"><tspan x="11.6" textLength="80" lengthAdjust="spacingAndGlyphs">cryptocatss</tspan> <tspan x="96.6" textLength="69" lengthAdjust="spacingAndGlyphs">tarafından</tspan> <tspan x="170.8" textLength="115" lengthAdjust="spacingAndGlyphs">TradingView.com</tspan> <tspan x="289.0" textLength="15.4" lengthAdjust="spacingAndGlyphs">ile</tspan> <tspan x="308.6" textLength="21.6" lengthAdjust="spacingAndGlyphs">Nis</tspan> <tspan x="333.6" textLength="19.4" lengthAdjust="spacingAndGlyphs">17,</tspan> <tspan x="357.4" textLength="34.8" lengthAdjust="spacingAndGlyphs">2026</tspan> <tspan x="396.4" textLength="36.2" lengthAdjust="spacingAndGlyphs">17:22</tspan> <tspan x="437.2" textLength="46.8" lengthAdjust="spacingAndGlyphs">UTC+3</tspan> <tspan x="489.2" textLength="60.4" lengthAdjust="spacingAndGlyphs">tarihinde</tspan> <tspan x="553.0" textLength="76.4" lengthAdjust="spacingAndGlyphs">oluşturuldu</tspan></text>
<g fill="#dadada"><path d="M14.1,740.2 H28.9 V758.2 H21.3 V747.3 H14.1 Z"/><circle cx="34.9" cy="743.8" r="3.7"/><path d="M41.6,740.2 H50.5 L43.9,758.2 H35 Z"/></g>
<text x="58.4" y="757.8" font-size="25.2" font-weight="bold" fill="#dadada" textLength="146" lengthAdjust="spacingAndGlyphs">TradingView</text>
</svg></body></html>
